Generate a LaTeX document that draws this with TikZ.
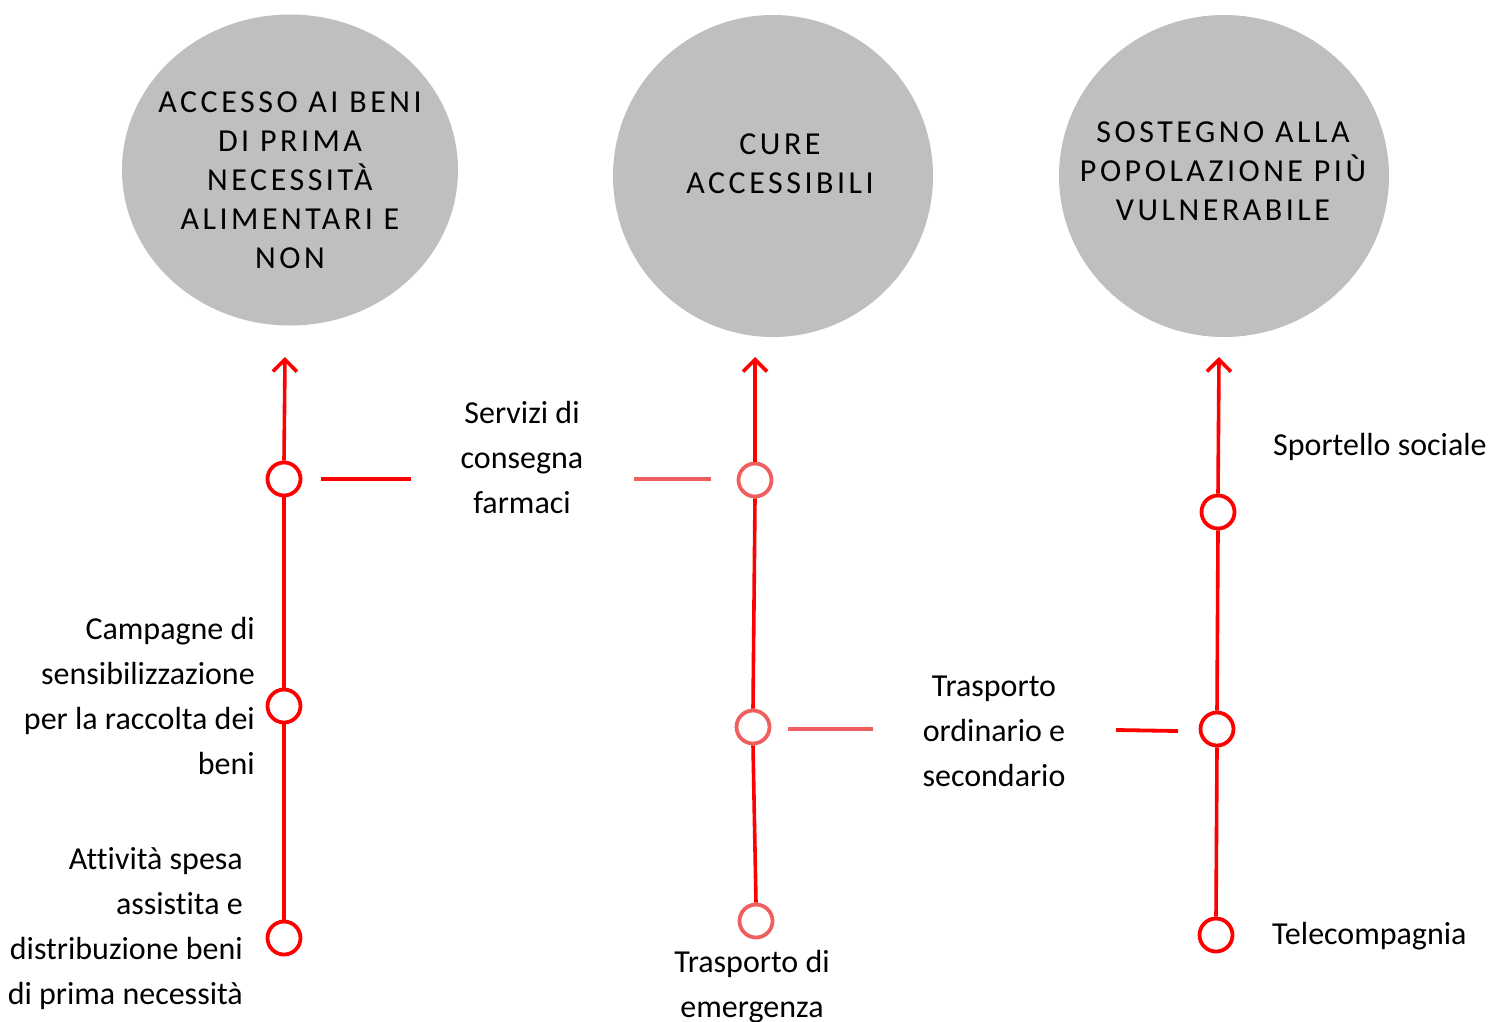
\documentclass[tikz,border=0pt]{standalone}
\usepackage{fontspec}
\setmainfont[Ligatures=NoCommon]{Carlito}
\newfontfamily\capsfont[LetterSpace=11]{Carlito}
\usetikzlibrary{shapes.geometric,arrows.meta}
\definecolor{bigfill}{HTML}{BFBFBF}
\definecolor{mainred}{HTML}{FF0000}
\definecolor{softred}{HTML}{EF5F5F}
\tikzset{
  bigcirc/.style={ellipse,fill=bigfill,draw=none,inner sep=0pt},
  captext/.style={align=center,font=\capsfont\fontsize{32}{39}\selectfont,text=black},
  lbl/.style={font=\fontsize{32}{45}\selectfont,text=black,inner sep=0pt},
  dotred/.style={circle,draw=mainred,fill=white,line width=3.8pt,minimum size=33pt,inner sep=0pt},
  dotsoft/.style={circle,draw=softred,fill=white,line width=3.8pt,minimum size=33pt,inner sep=0pt},
  vline/.style={draw=mainred,line width=3.6pt},
  arr/.style={vline,-{Straight Barb[length=12pt,width=24pt,line width=3.6pt]}},
  hred/.style={draw=mainred,line width=3.8pt},
  hsoft/.style={draw=softred,line width=3.8pt}
}
\begin{document}
\begin{tikzpicture}[x=1pt,y=-1pt]
\useasboundingbox (0,0) rectangle (1503,1021);
% big circles
\node[bigcirc,minimum width=336pt,minimum height=311pt] (B1) at (290,170) {};
\node[bigcirc,minimum width=320pt,minimum height=322pt] (B2) at (773,176) {};
\node[bigcirc,minimum width=330pt,minimum height=322pt] (B3) at (1224,176) {};
\node[captext] (T1) at (290,180) {ACCESSO AI BENI\\DI PRIMA\\NECESSITÀ\\ALIMENTARI E\\NON};
\node[captext] (T2) at (780,164) {CURE\\ACCESSIBILI};
\node[captext] (T3) at (1223,171) {SOSTEGNO ALLA\\POPOLAZIONE PIÙ\\VULNERABILE};
% arrow tips
\coordinate (A1) at (285,357);
\coordinate (A2) at (755,357);
\coordinate (A3) at (1219,357);
% small circles
\node[dotred] (c11) at (284,479) {};
\node[dotred] (c12) at (284,706) {};
\node[dotred] (c13) at (284,938) {};
\node[dotsoft] (c21) at (755,480) {};
\node[dotsoft] (c22) at (753,727) {};
\node[dotsoft] (c23) at (756,921) {};
\node[dotred] (c31) at (1218,512) {};
\node[dotred] (c32) at (1217,729) {};
\node[dotred] (c33) at (1216,935) {};
% vertical lines
\draw[arr] (c11.north) -- (A1);
\draw[vline] (c12.north) -- (c11.south);
\draw[vline] (c13.north) -- (c12.south);
\draw[arr] (c21.north) -- (A2);
\draw[vline] (c22.north) -- (c21.south);
\draw[vline] (c23.north) -- (c22.south);
\draw[arr] (c31.north) -- (A3);
\draw[vline] (c32.north) -- (c31.south);
\draw[vline] (c33.north) -- (c32.south);
% horizontal segments
\coordinate (h1a) at (321,479); \coordinate (h1b) at (411,479);
\coordinate (h2a) at (634,479); \coordinate (h2b) at (711,479);
\coordinate (h3a) at (788,729); \coordinate (h3b) at (873,729);
\coordinate (h4a) at (1116,730); \coordinate (h4b) at (1178,731);
\draw[hred] (h1a) -- (h1b);
\draw[hsoft] (h2a) -- (h2b);
\draw[hsoft] (h3a) -- (h3b);
\draw[hred] (h4a) -- (h4b);
% labels
\node[lbl,align=center] (L1) at (522,457) {Servizi di\\consegna\\farmaci};
\node[lbl,align=right,anchor=east] (L2) at (255,696) {Campagne di\\sensibilizzazione\\per la raccolta dei\\beni};
\node[lbl,align=right,anchor=east] (L3) at (243,929) {Attività spesa\\assistita e\\distribuzione beni\\di prima necessità};
\node[lbl,align=center] (L4) at (994,731) {Trasporto\\ordinario e\\secondario};
\node[lbl,align=center] (L5) at (752,987) {Trasporto di\\emergenza};
\node[lbl,anchor=west] (L6) at (1273,447) {Sportello sociale};
\node[lbl,anchor=west] (L7) at (1272,936) {Telecompagnia};
\end{tikzpicture}
\end{document}
